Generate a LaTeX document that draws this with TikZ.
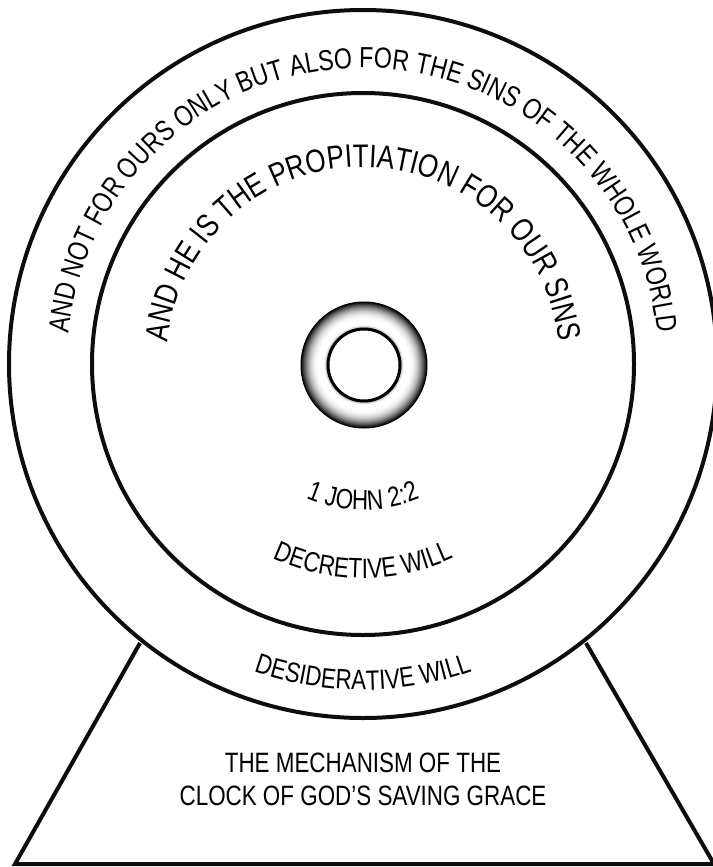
\documentclass[tikz,border=0pt]{standalone}
\usepackage{fontspec}
\usetikzlibrary{decorations.text}
\newfontfamily\clockfont[FakeStretch=0.8]{Liberation Sans}
\newcommand\outerfnt{\clockfont\fontsize{29}{34}\selectfont}
\newcommand\innerfnt{\clockfont\fontsize{32.5}{38}\selectfont}
\newcommand\smallfnt{\clockfont\fontsize{28}{33}\selectfont}
\tikzset{
  rim/.style={line width=4pt, draw=black!95},
  arctext/.style={decorate, decoration={text along path, text align=center, text={#1}}},
  plain/.style={font=\smallfnt, inner sep=0pt}
}
\begin{document}
\begin{tikzpicture}[x=1pt,y=1pt]
\useasboundingbox (0,0) rectangle (712,-867);
\coordinate (c) at (363,-364);
\coordinate (h) at (364,-365);
% stand
\coordinate (tl) at (140,-643);
\coordinate (tr) at (586,-643);
\coordinate (bl) at (15,-864);
\coordinate (br) at (714,-864);
\draw[rim, line join=miter] (tl) -- (bl) -- (br) -- (tr);
% dials
\draw[rim, fill=white] (c) circle (354);
\draw[rim] (c) circle (271);
% hub: radial gradient ring drawn as concentric discs
\foreach \hr in {63.5,63,...,36.5}{
  \pgfmathsetmacro\hubt{(\hr-36)/27}
  \pgfmathsetmacro\hubk{\hubt>0.35 ? 100*((\hubt-0.35)/0.65)^2 : (\hubt<0.15 ? 45*(0.15-\hubt)/0.15 : 0)}
  \pgfmathsetmacro\hubk{max(0,min(100,\hubk))}
  \fill[black!\hubk!white] (h) circle (\hr);
}
\draw[line width=3pt, fill=white] (h) circle (36);
% ring texts
\path[arctext={|\outerfnt|AND NOT FOR OURS ONLY BUT ALSO FOR THE SINS OF THE WHOLE WORLD}]
  ([shift={(205:296)}]c) arc[start angle=205, end angle=-25, radius=296];
\path[arctext={|\innerfnt|AND HE IS THE PROPITIATION FOR OUR SINS}]
  ([shift={(205:197)}]c) arc[start angle=205, end angle=-25, radius=197];
\path[arctext={|\smallfnt|1 JOHN 2:2}]
  ([shift={(215:146)}]c) arc[start angle=215, end angle=325, radius=146];
\path[arctext={|\smallfnt|DECRETIVE WILL}]
  ([shift={(210:214)}]c) arc[start angle=210, end angle=330, radius=214];
\path[arctext={|\smallfnt|DESIDERATIVE WILL}]
  ([shift={(220:326)}]c) arc[start angle=220, end angle=320, radius=326];
% stand text
\node[plain, anchor=base] (l1) at (363,-772) {THE MECHANISM OF THE};
\node[plain, anchor=base] (l2) at (363,-805) {CLOCK OF GOD’S SAVING GRACE};
\end{tikzpicture}
\end{document}
